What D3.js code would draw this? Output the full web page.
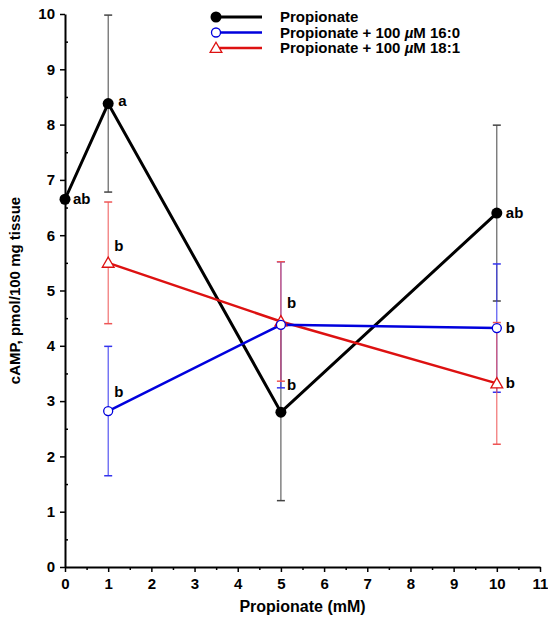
<!DOCTYPE html>
<html>
<head>
<meta charset="utf-8">
<script src="https://cdn.jsdelivr.net/npm/d3@7"></script>
<style>
  body { margin: 0; background: #fff; }
  svg text { font-family: "Liberation Sans", Arial, Helvetica, sans-serif; font-weight: bold; }
</style>
</head>
<body>
<div id="chart"></div>
<script>
// values
const doses = [0, 1, 5, 10];
const propMean = [6.65, 8.38, 2.8, 6.4];
const propSE = [null, 1.6, 1.6, 1.59];
const palmMean = [null, 2.82, 4.38, 4.32];
const palmSE = [null, 1.17, 1.14, 1.16];
const oleMean = [null, 5.5, 4.44, 3.32];
const oleSE = [null, 1.1, 1.08, 1.1];
const propLetters = ["ab", "a", "b", "ab"];
const palmLetters = [null, "b", "b", "b"];
const oleLetters = [null, "b", "b", "b"];
const xTicks = d3.range(0, 12);
const yTicks = d3.range(0, 11);

const margin = {top: 14, right: 8, bottom: 56, left: 65},
    width = 548 - margin.left - margin.right,
    height = 623 - margin.top - margin.bottom;

const svg = d3.select("#chart")
  .append("svg")
    .attr("width", 548)
    .attr("height", 623)
  .append("g")
    .attr("transform", `translate(${margin.left}, ${margin.top})`);

const x = d3.scaleLinear().domain([0, 11]).range([0, 475]);
const y = d3.scaleLinear().domain([0, 10]).range([553, 0]);

// axes with minor ticks at the halves
svg.append("g")
  .attr("transform", `translate(0, ${y(0)})`)
  .call(d3.axisBottom(x).tickValues(d3.range(0.5, 11, 1)).tickSize(3).tickFormat(""))
  .call(g => g.select(".domain").remove())
  .selectAll("line").attr("stroke-width", 1.5);
svg.append("g")
  .attr("transform", `translate(0, ${y(0)})`)
  .call(d3.axisBottom(x).tickValues(xTicks).tickSize(5).tickSizeOuter(0).tickPadding(6))
  .call(g => g.select(".domain").attr("stroke-width", 2))
  .call(g => g.selectAll("line").attr("stroke-width", 1.5))
  .selectAll("text").attr("font-size", 15).attr("fill", "#000");

svg.append("g")
  .call(d3.axisLeft(y).tickValues(d3.range(0.5, 10, 1)).tickSize(-3).tickFormat(""))
  .call(g => g.select(".domain").remove())
  .selectAll("line").attr("stroke-width", 1.5);
svg.append("g")
  .call(d3.axisLeft(y).tickValues(yTicks).tickSize(5).tickSizeOuter(0).tickPadding(5))
  .call(g => g.select(".domain").attr("stroke-width", 2))
  .call(g => g.selectAll("line").attr("stroke-width", 1.5))
  .selectAll("text").attr("font-size", 15).attr("fill", "#000");

svg.append("text")
  .attr("x", x(5.5))
  .attr("y", height + 45)
  .attr("text-anchor", "middle")
  .attr("font-size", 16)
  .text("Propionate (mM)");

svg.append("text")
  .attr("transform", `translate(-45, ${height / 2}) rotate(-90)`)
  .attr("text-anchor", "middle")
  .attr("font-size", 15)
  .text("cAMP, pmol/100 mg tissue");

const series = [
  {mean: propMean, se: propSE, letters: propLetters, color: "#000", bar: "#444", width: 3, marker: "dot"},
  {mean: oleMean, se: oleSE, letters: oleLetters, color: "#dd1111", bar: "#ee5555", width: 2.5, marker: "tri"},
  {mean: palmMean, se: palmSE, letters: palmLetters, color: "#0000dd", bar: "#3333ee", width: 2.5, marker: "circ"}
];

// error bars first: black, blue, then red on top
[series[0], series[2], series[1]].forEach(s => {
  const pts = doses.map((d, i) => ({x: d, m: s.mean[i], e: s.se[i]})).filter(p => p.m != null && p.e != null);
  const g = svg.append("g").attr("stroke", s.bar).attr("stroke-width", 1);
  pts.forEach(p => {
    g.append("line").attr("x1", x(p.x)).attr("x2", x(p.x)).attr("y1", y(p.m - p.e)).attr("y2", y(p.m + p.e));
    [p.m - p.e, p.m + p.e].forEach(v => {
      g.append("line").attr("x1", x(p.x) - 4).attr("x2", x(p.x) + 4).attr("y1", y(v)).attr("y2", y(v)).attr("stroke-width", 1.5);
    });
  });
});

const line = d3.line().x(d => x(d.x)).y(d => y(d.m));

series.forEach(s => {
  const pts = doses.map((d, i) => ({x: d, m: s.mean[i]})).filter(p => p.m != null);
  svg.append("path")
    .datum(pts)
    .attr("fill", "none")
    .attr("stroke", s.color)
    .attr("stroke-width", s.width)
    .attr("d", line);
});

function drawMarker(g, type, cx, cy, color) {
  if (type === "dot") {
    g.append("circle").attr("cx", cx).attr("cy", cy).attr("r", 5.5).attr("fill", color);
  } else if (type === "circ") {
    g.append("circle").attr("cx", cx).attr("cy", cy).attr("r", 4.5).attr("fill", "#fff").attr("stroke", color).attr("stroke-width", 1.3);
  } else {
    g.append("path")
      .attr("d", d3.symbol(d3.symbolTriangle, 60)())
      .attr("transform", `translate(${cx}, ${cy + 1})`)
      .attr("fill", "#fff").attr("stroke", color).attr("stroke-width", 1.3);
  }
}

series.forEach(s => {
  const g = svg.append("g");
  doses.forEach((d, i) => {
    if (s.mean[i] == null) return;
    drawMarker(g, s.marker, x(d), y(s.mean[i]), s.color);
  });
});

// significance letters, offsets per point
const letterPos = [
  {s: 0, i: 0, dx: 8, dy: 5},
  {s: 0, i: 1, dx: 10, dy: 2},
  {s: 0, i: 2, dx: 6, dy: -22},
  {s: 0, i: 3, dx: 9, dy: 5},
  {s: 1, i: 1, dx: 6, dy: -12},
  {s: 1, i: 2, dx: 6, dy: -13},
  {s: 1, i: 3, dx: 9, dy: 5},
  {s: 2, i: 1, dx: 6, dy: -14},
  {s: 2, i: 3, dx: 9, dy: 5}
];
letterPos.forEach(p => {
  const s = series[p.s];
  svg.append("text")
    .attr("x", x(doses[p.i]) + p.dx)
    .attr("y", y(s.mean[p.i]) + p.dy)
    .attr("font-size", 15)
    .text(s.letters[p.i]);
});

// legend
const legendItems = [
  {label: "Propionate", s: series[0]},
  {label: "Propionate + 100 \u00b5M 16:0", s: series[2]},
  {label: "Propionate + 100 \u00b5M 18:1", s: series[1]}
];
const legend = svg.append("g").attr("transform", `translate(${214 - margin.left}, ${17 - margin.top})`);
legendItems.forEach((it, i) => {
  const ly = i * 15.5;
  legend.append("line").attr("x1", 0).attr("x2", 48).attr("y1", ly).attr("y2", ly)
    .attr("stroke", it.s.color).attr("stroke-width", it.s.width);
  drawMarker(legend, it.s.marker, 2, ly, it.s.color);
  const t = legend.append("text").attr("x", 66).attr("y", ly + 5).attr("font-size", 15);
  if (it.label.includes("\u00b5")) {
    const parts = it.label.split("\u00b5");
    t.append("tspan").text(parts[0]);
    t.append("tspan").attr("font-style", "italic").text("\u00b5");
    t.append("tspan").text(parts[1]);
  } else {
    t.text(it.label);
  }
});
</script>
</body>
</html>
